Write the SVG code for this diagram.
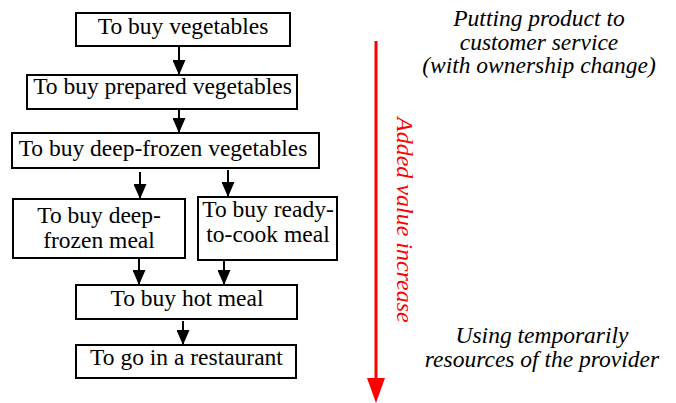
<svg xmlns="http://www.w3.org/2000/svg" width="676" height="403" viewBox="0 0 676 403">
  <style>
    .box { fill: #ffffff; stroke: #000000; stroke-width: 2; }
    .flow { stroke: #000000; stroke-width: 2; fill: none; marker-end: url(#head); }
    .value { stroke: #ff0000; stroke-width: 3; fill: none; marker-end: url(#redhead); }
  </style>
  <defs>
    <marker id="head" viewBox="0 0 15 13" refX="15" refY="6.5" markerWidth="15" markerHeight="13" markerUnits="userSpaceOnUse" orient="auto">
      <path d="M0,0 L15,6.5 L0,13 z" fill="#000000"/>
    </marker>
    <marker id="redhead" viewBox="0 0 25 18" refX="0" refY="9" markerWidth="25" markerHeight="18" markerUnits="userSpaceOnUse" orient="auto">
      <path d="M0,0 L25,9 L0,18 z" fill="#ff0000"/>
    </marker>
  </defs>

  <g id="connectors">
    <line class="flow" x1="179" y1="46" x2="179" y2="75"/>
    <line class="flow" x1="179" y1="109" x2="179" y2="133"/>
    <line class="flow" x1="140" y1="172" x2="140" y2="199"/>
    <line class="flow" x1="228" y1="170" x2="228" y2="197"/>
    <line class="flow" x1="139" y1="258" x2="139" y2="285"/>
    <line class="flow" x1="224" y1="260" x2="224" y2="285"/>
    <line class="flow" x1="183" y1="321" x2="183" y2="345"/>
  </g>

  <!-- flow boxes: node labels share one serif face -->
  <g id="nodes" font-family="Liberation Serif" font-size="23.5" text-anchor="middle" fill="#000000">
    <g id="buy-vegetables">
      <rect class="box" x="76" y="13" width="214" height="33"/>
      <text x="183" y="34">To buy vegetables</text>
    </g>
    <g id="buy-prepared">
      <rect class="box" x="27" y="75" width="270" height="34"/>
      <text x="162.5" y="94">To buy prepared vegetables</text>
    </g>
    <g id="buy-deep-frozen-veg">
      <rect class="box" x="12" y="133" width="307" height="35"/>
      <text x="163" y="156">To buy deep-frozen vegetables</text>
    </g>
    <g id="buy-deep-frozen-meal">
      <rect class="box" x="13" y="199" width="172" height="59"/>
      <text x="99" y="223">To buy deep-</text>
      <text x="99" y="248">frozen meal</text>
    </g>
    <g id="buy-ready-to-cook">
      <rect class="box" x="198" y="197" width="139" height="63"/>
      <text x="268" y="217">To buy ready-</text>
      <text x="268" y="242">to-cook meal</text>
    </g>
    <g id="buy-hot-meal">
      <rect class="box" x="76" y="285" width="221" height="34"/>
      <text x="187" y="306">To buy hot meal</text>
    </g>
    <g id="restaurant">
      <rect class="box" x="76" y="345" width="220" height="33"/>
      <text x="186.5" y="365">To go in a restaurant</text>
    </g>
  </g>

  <g id="value-axis">
    <line class="value" x1="376" y1="41" x2="376" y2="378"/>
    <text font-family="Liberation Serif" font-style="italic" font-size="24" fill="#ff0000" transform="translate(397,117) rotate(90)">Added value increase</text>
  </g>

  <g id="notes" font-family="Liberation Serif" font-style="italic" font-size="23.5" text-anchor="middle" fill="#000000">
    <g id="note-top">
      <text x="539" y="26">Putting product to</text>
      <text x="539" y="49.5">customer service</text>
      <text x="539" y="73">(with ownership change)</text>
    </g>
    <g id="note-bottom">
      <text x="542" y="343">Using temporarily</text>
      <text x="542" y="367">resources of the provider</text>
    </g>
  </g>
</svg>
